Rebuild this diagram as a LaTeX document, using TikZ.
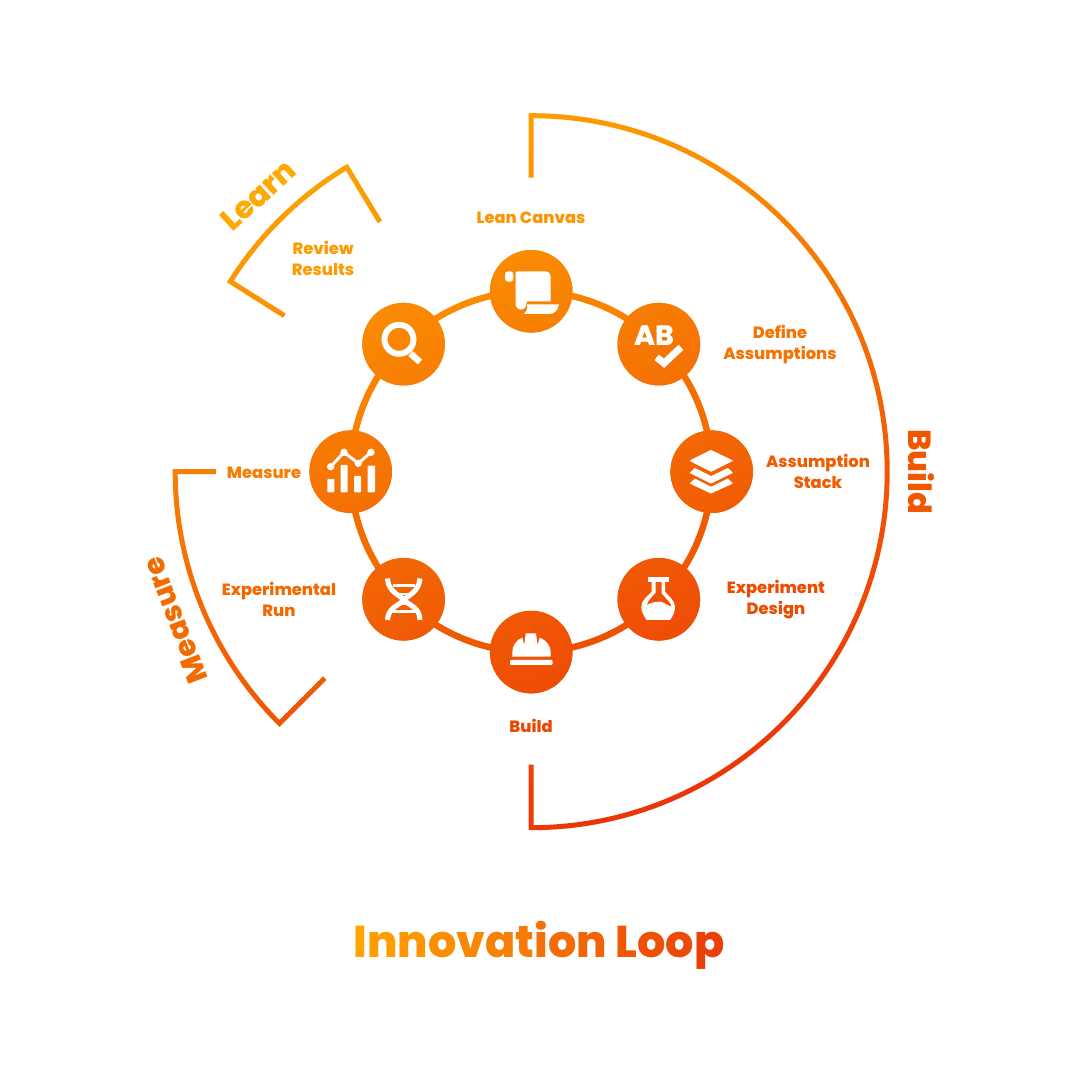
\documentclass[tikz,border=0pt]{standalone}
\usepackage{fontspec}
\usetikzlibrary{calc,backgrounds}
\setmainfont{Poppins ExtraBold}
\definecolor{gtop}{RGB}{255,168,0}
\definecolor{gbot}{RGB}{233,47,8}
\definecolor{tita}{RGB}{255,165,0}
\definecolor{titb}{RGB}{233,64,10}
\newcommand\gradcol[3]{%
  \pgfmathsetmacro\gcG{110-0.058*(#2-531)-0.152*(#3-472)}%
  \pgfmathsetmacro\gcR{min(255,232+(\gcG-60)*0.24)/255}%
  \pgfmathsetmacro\gcB{max(0,(70-\gcG)*0.4)/255}%
  \pgfmathsetmacro\gcGG{\gcG/255}%
  \definecolor{#1}{rgb}{\gcR,\gcGG,\gcB}}
\newcommand\globalshade{%
  \begin{scope}[transform canvas={rotate around={20.9:(531.2,608.3)}}]
    \shade[top color=gtop,bottom color=gbot] (-300,208.3) rectangle (1400,1008.3);
  \end{scope}}
% stroke outline of a bracket: a1 > a2, tails t1 and t2
\newcommand\bracketpath[4]{%
  ($(C)+(#1:356-#3)+(#1+90:2.5)$) -- ($(C)+(#1:358.5)+(#1+90:2.5)$) -- ($(C)+(#1:358.5)$)
  arc[start angle=#1,end angle=#2,radius=358.5]
  -- ($(C)+(#2:358.5)+(#2-90:2.5)$) -- ($(C)+(#2:356-#4)+(#2-90:2.5)$)
  -- ($(C)+(#2:356-#4)+(#2+90:2.5)$) -- ($(C)+(#2:353.5)+(#2+90:2.5)$) -- ($(C)+(#2:353.5)$)
  arc[start angle=#2,end angle=#1,radius=353.5]
  -- ($(C)+(#1:353.5)+(#1-90:2.5)$) -- ($(C)+(#1:356-#3)+(#1-90:2.5)$) -- cycle }
\tikzset{
  hub/.style={circle,minimum size=82.6pt,inner sep=0pt,outer sep=0pt},
  ringarc/.style={line width=6.5pt,bend left=22.5,looseness=0.886},
  lab/.style={align=center,font=\fontsize{16.3}{21}\selectfont,inner sep=0pt},
  phase/.style={inner sep=0pt},
  ico/.style={fill=white,draw=white,line width=1pt,line join=round},
}
\begin{document}
\begin{tikzpicture}[x=1pt,y=1pt]
\useasboundingbox (0,0) rectangle (1080,1080);
\coordinate (C) at (531.2,608.3);
% hubs
\gradcol{c1}{531}{291}\node[hub,fill=c1] (canvas) at (531.2,788.7) {};
\gradcol{c2}{659}{344}\node[hub,fill=c2] (define) at (658.8,735.8) {};
\gradcol{c3}{711}{472}\node[hub,fill=c3] (stack) at (711.7,608.3) {};
\gradcol{c4}{659}{600}\node[hub,fill=c4] (design) at (658.8,480.7) {};
\gradcol{c5}{531}{652}\node[hub,fill=c5] (build) at (531.2,427.9) {};
\gradcol{c6}{404}{600}\node[hub,fill=c6] (run) at (403.6,480.7) {};
\gradcol{c7}{350}{472}\node[hub,fill=c7] (measure) at (350.7,608.3) {};
\gradcol{c8}{404}{344}\node[hub,fill=c8] (review) at (403.6,735.8) {};
\begin{scope}
  \clip (canvas) circle (41.3) (define) circle (41.3) (stack) circle (41.3) (design) circle (41.3)
        (build) circle (41.3) (run) circle (41.3) (measure) circle (41.3) (review) circle (41.3);
  \globalshade
\end{scope}
% ring connectors
\begin{scope}[on background layer]
  \fill[white] (0,0) rectangle (1080,1080);
  \gradcol{a1}{600}{305}\draw[ringarc,a1] (canvas.center) to (define.center);
  \gradcol{a2}{695}{405}\draw[ringarc,a2] (define.center) to (stack.center);
  \gradcol{a3}{695}{540}\draw[ringarc,a3] (stack.center) to (design.center);
  \gradcol{a4}{600}{638}\draw[ringarc,a4] (design.center) to (build.center);
  \gradcol{a5}{462}{638}\draw[ringarc,a5] (build.center) to (run.center);
  \gradcol{a6}{367}{540}\draw[ringarc,a6] (run.center) to (measure.center);
  \gradcol{a7}{367}{405}\draw[ringarc,a7] (measure.center) to (review.center);
  \gradcol{a8}{462}{305}\draw[ringarc,a8] (review.center) to (canvas.center);
\end{scope}
% brackets
\begin{scope}
  \clip \bracketpath{90}{-90}{62}{63}
        \bracketpath{147.7}{121.2}{64}{64}
        \bracketpath{225}{180}{64}{41};
  \globalshade
\end{scope}
% labels
\gradcol{t1}{531}{217}\node[lab,text=t1] (lcanvas) at (531,862) {Lean Canvas};
\gradcol{t2}{780}{343}\node[lab,text=t2] (ldefine) at (780,735.5) {Define\\Assumptions};
\gradcol{t3}{818}{472}\node[lab,text=t3] (lstack) at (818,609) {Assumption\\Stack};
\gradcol{t4}{776}{598}\node[lab,text=t4] (ldesign) at (776,480.5) {Experiment\\Design};
\gradcol{t5}{531}{726}\node[lab,text=t5] (lbuild) at (531,354) {Build};
\gradcol{t6}{279}{600}\node[lab,text=t6] (lrun) at (279,481) {Experimental\\Run};
\gradcol{t7}{264}{472}\node[lab,text=t7] (lmeasure) at (264,607) {Measure};
\gradcol{t8}{323}{259}\node[lab,text=t8] (lreview) at (323,822) {Review\\Results};
\gradcol{p1}{920}{472}\node[phase,text=p1,rotate=-90,font=\fontsize{32}{34}\selectfont] (pbuild) at (921,608.5) {Build};
\gradcol{p2}{178}{620}\node[phase,text=p2,rotate=111,font=\fontsize{29}{31}\selectfont] (pmeasure) at (175,459.5) {Measure};
\gradcol{p3}{258}{195}\node[phase,text=p3,rotate=42,font=\fontsize{30.5}{32}\selectfont] (plearn) at (258,885) {Learn};
% title
\newcommand\tl[2]{\textcolor{tita!#1!titb}{#2}}
\node[inner sep=0pt,font=\fontsize{44.5}{50}\selectfont] (title) at (539,134.5) {\tl{100}{I}\tl{92}{n}\tl{85}{n}\tl{78}{o}\tl{71}{v}\tl{64}{a}\tl{57}{t}\tl{50}{i}\tl{44}{o}\tl{37}{n} \tl{24}{L}\tl{17}{o}\tl{10}{o}\tl{0}{p}};
% AB text
\node[inner sep=0pt,text=white,font=\fontsize{28}{30}\selectfont] (ab) at (654.5,744.5) {AB};
% icons, in reference pixel coordinates
\begin{scope}[shift={(0,1080)},y=-1pt]
  % scroll
  \fill[white,rounded corners=3pt] (505,271.3) rectangle (513.3,281.7);
  \fill[white] (518,271.3) -- (545,271.3) .. controls (549,271.3) and (550.7,274) .. (550.7,278) -- (550.7,301.5) -- (527,301.5)
     -- (526,306) .. controls (525,311) and (516,311) .. (515.7,305) -- (515.7,272) -- cycle;
  \fill[white] (527,304.5) -- (559,304.5) .. controls (558,310) and (555,314) .. (549,314) -- (524,314) .. controls (527,311) and (528,308) .. (527,304.5) -- cycle;
  % magnifier
  \draw[white,line width=6pt] (399,339.3) circle (14.5);
  \draw[white,line width=6.5pt] (410.5,353.5) -- (420,362);
  % check
  \draw[white,line width=7pt,line join=miter] (656.7,357.3) -- (664,363.3) -- (681,347.3);
  % layers
  \path[ico] (711,450.5) -- (732.2,460.7) -- (711,471.2) -- (690.3,460.7) -- cycle;
  \path[ico] (690.5,472.7) -- (695,468.6) -- (711,476.7) -- (727.7,468.6) -- (732.2,472.7) -- (711,483) -- cycle;
  \path[ico] (690.5,483.3) -- (695,479.2) -- (711,487.3) -- (727.7,479.2) -- (732.2,483.3) -- (711,493) -- cycle;
  % flask
  \fill[white,even odd rule] (651.7,582) -- (651.7,591.7) .. controls (647,597) and (641.3,600) .. (641.3,607) .. controls (641.3,612) and (644,616) .. (646.7,620)
     -- (670,620) .. controls (673,616) and (675,612) .. (675,607) .. controls (675,600) and (669,597) .. (665,591.7) -- (665,582) -- cycle
     (655.7,582) -- (655.7,592.5) .. controls (652,597) and (648,600) .. (646.7,605) .. controls (650,603) and (655,601.5) .. (660,601.7) .. controls (664,602) and (668,606) .. (671.7,606.7) .. controls (670,601) and (665,598) .. (661.7,593.3) -- (661.7,582) -- cycle;
  \fill[white] (648,577.3) rectangle (669.3,582);
  % helmet
  \fill[white] (512.3,656.7) -- (512.3,652) .. controls (512.3,646) and (516,640) .. (522.3,637.5) -- (524.3,645) -- (525.7,633.3) -- (536,633.3) -- (537.5,645) -- (539.8,637.5)
     .. controls (546,640) and (550.7,646) .. (550.7,652) -- (550.7,656.7) -- cycle;
  \fill[white,rounded corners=1pt] (510,660) rectangle (552.7,665);
  % chart
  \fill[white,rounded corners=0.8pt] (327.3,479) rectangle (334.3,492.3) (340.7,465) rectangle (347.7,492.3)
      (354,476) rectangle (361,492.3) (367.7,465.7) rectangle (375,492.3);
  \draw[white,line width=3pt,line join=round] (330.7,466.7) -- (344,452.3) -- (358.3,463.3) -- (371,452.3);
  \fill[white] (330.7,466.7) circle (3.7) (344,452.3) circle (3.7) (358.3,463.3) circle (3.7) (371,452.3) circle (3.7);
  % dna
  \draw[white,line width=5pt] (387.5,578.5) .. controls (388,592) and (400,595) .. (404,600) .. controls (408,605) and (420,607) .. (420,620);
  \draw[white,line width=5pt] (420,578.5) .. controls (419,592) and (408,595) .. (404,600) .. controls (400,605) and (388,607) .. (387.5,620);
  \draw[white,line width=2.5pt] (392.5,585.7) -- (415,585.7) (399.5,594) -- (408,594) (399,604) -- (409,604) (392.5,611.7) -- (415,611.7);
\end{scope}
\end{tikzpicture}
\end{document}
